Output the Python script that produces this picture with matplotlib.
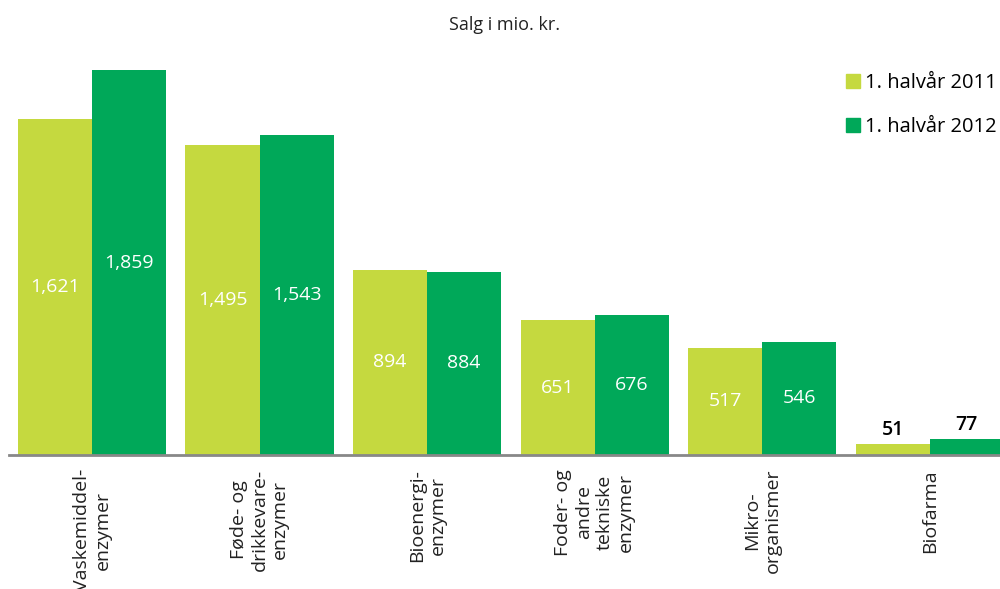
import matplotlib.pyplot as plt
import numpy as np
from matplotlib.lines import Line2D

plt.rcParams['font.family'] = ['Open Sans', 'DejaVu Sans']

categories = ["Vaskemiddel-\nenzymer", "Føde- og\ndrikkevare-\nenzymer",
              "Bioenergi-\nenzymer", "Foder- og\nandre\ntekniske\nenzymer",
              "Mikro-\norganismer", "Biofarma"]
sales_2011 = [1621, 1495, 894, 651, 517, 51]
sales_2012 = [1859, 1543, 884, 676, 546, 77]
series_names = ["1. halvår 2011", "1. halvår 2012"]

light = "#c5d93f"
dark = "#00a859"

fig = plt.figure(figsize=(10, 5.89), dpi=100)
ax = fig.add_axes([0.009, 1 - 455 / 589, 0.991, 415 / 589])

x = np.arange(len(categories))
w = 0.442
b1 = ax.bar(x - w / 2, sales_2011, w, color=light)
b2 = ax.bar(x + w / 2, sales_2012, w, color=dark)

ax.set_xlim(-0.4955, 5.42)
ax.set_ylim(0, 2004)

for bars, vals in ((b1, sales_2011), (b2, sales_2012)):
    for rect, v in zip(bars, vals):
        cx = rect.get_x() + rect.get_width() / 2
        if v > 200:
            ax.text(cx, v / 2, "{:,}".format(v), ha="center", va="center",
                    color="white", fontsize=14, fontweight="medium")
        else:
            ax.annotate("{:,}".format(v), (cx, v), xytext=(0, 3),
                        textcoords="offset points", ha="center", va="bottom",
                        color="black", fontsize=14, fontweight="semibold")

for s in ["top", "right", "left"]:
    ax.spines[s].set_visible(False)
ax.spines["bottom"].set_color("#888888")
ax.spines["bottom"].set_linewidth(2)
ax.set_yticks([])
ax.set_xticks(x)
ax.set_xticklabels(categories, rotation=90, fontsize=14, color="#222222",
                   multialignment="center")
ax.tick_params(axis="x", length=0, pad=10)

fig.text(0.505, 1 - 25 / 589, "Salg i mio. kr.", ha="center", va="center",
         fontsize=13, color="#222222")

handles = [Line2D([], [], marker="s", linestyle="", color=c, markersize=10)
           for c in (light, dark)]
ax.legend(handles, series_names, loc="upper right", bbox_to_anchor=(1.005, 0.94),
          frameon=False, fontsize=14.5, handlelength=0.6, handletextpad=0.3,
          labelspacing=1.2, borderaxespad=0)

fig.savefig("out.png", dpi=100)
